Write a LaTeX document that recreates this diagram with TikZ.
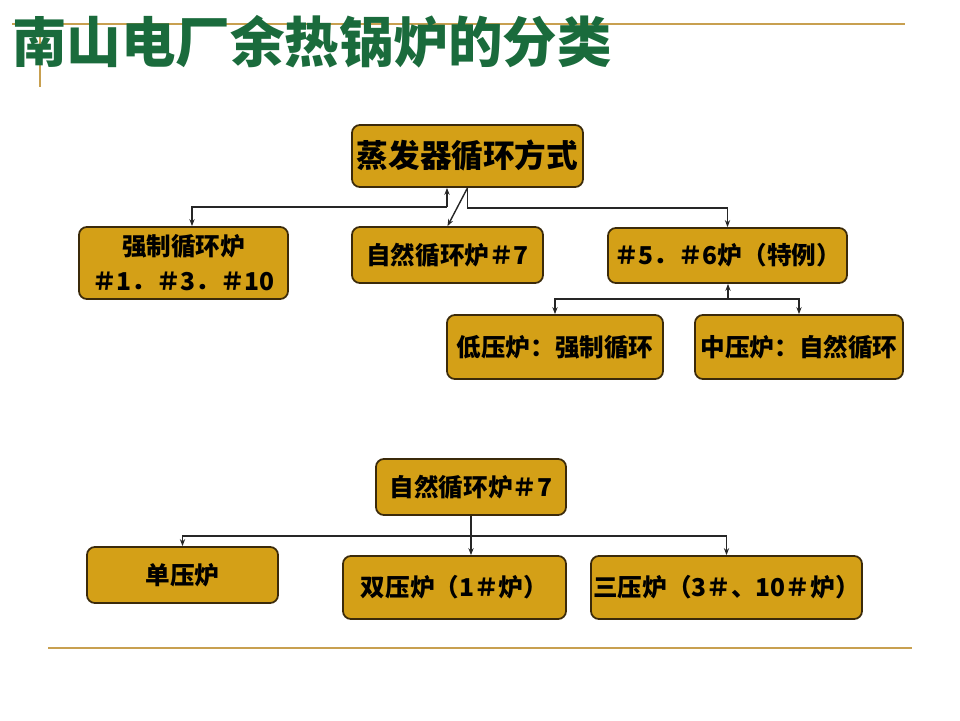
\documentclass[tikz,border=0pt]{standalone}
\usepackage{fontspec}
\usetikzlibrary{arrows.meta,positioning,calc}
\newfontfamily\cjk{Noto Sans CJK SC}
\definecolor{boxfill}{HTML}{D4A017}
\definecolor{boxline}{HTML}{3B2A0A}
\definecolor{titlegreen}{HTML}{1A6B3C}
\definecolor{rulegold}{HTML}{C8A050}

\begin{document}
\begin{tikzpicture}[x=0.02cm, y=-0.02cm,
  box/.style={rectangle, rounded corners=4.5pt, draw=boxline, line width=1pt, fill=boxfill, inner sep=0pt, align=center, font=\cjk\bfseries\fontsize{14pt}{20pt}\selectfont},
  arr/.style={-{Stealth[length=4pt,width=3pt]}, line width=0.8pt, black!85}
]
  \useasboundingbox (0,0) rectangle (960,720);

  % page rules
  \draw[rulegold, line width=1.2pt] (12,24) -- (905,24);
  \draw[rulegold, line width=1.2pt] (40,16) -- (40,87);
  \draw[rulegold, line width=1.4pt] (48,648) -- (912,648);
  \node[anchor=base west, inner sep=0pt, titlegreen, font=\cjk\bfseries\fontsize{31pt}{36pt}\selectfont] (title) at (12,62) {南山电厂余热锅炉的分类};

  % upper tree
  \node[box, minimum width=231*0.02cm, minimum height=62*0.02cm, font=\cjk\bfseries\fontsize{18pt}{22pt}\selectfont] (evap) at (467.5,156) {蒸发器循环方式};
  \node[box, minimum width=209*0.02cm, minimum height=72*0.02cm] (forced) at (183.5,263) {强制循环炉\\＃1．＃3．＃10};
  \node[box, minimum width=191*0.02cm, minimum height=56*0.02cm] (natural) at (447.5,255) {自然循环炉＃7};
  \node[box, minimum width=239*0.02cm, minimum height=55*0.02cm] (special) at (727.5,255.5) {＃5．＃6炉（特例）};
  \node[box, minimum width=216*0.02cm, minimum height=64*0.02cm] (lowp) at (555,347) {低压炉：强制循环};
  \node[box, minimum width=208*0.02cm, minimum height=64*0.02cm] (midp) at (799,347) {中压炉：自然循环};

  \coordinate (j1) at (447,207);
  \coordinate (j2) at (728,299);
  \draw[arr] (j1) -- (j1 |- evap.south);
  \draw[arr] (j1) -| ($(forced.north)+(8.5,0)$);
  \draw[arr] (evap.south) -- (natural.north);
  \draw[arr] (evap.south) -- ($(evap.south)+(0,20)$) -| (special.north);
  \draw[arr] (j2) -- (j2 |- special.south);
  \draw[arr] (j2) -| (lowp.north);
  \draw[arr] (j2) -| (midp.north);

  % lower tree
  \node[box, minimum width=190*0.02cm, minimum height=56*0.02cm] (natural2) at (471,487) {自然循环炉＃7};
  \node[box, minimum width=191*0.02cm, minimum height=56*0.02cm] (single) at (182.5,575) {单压炉};
  \node[box, minimum width=223*0.02cm, minimum height=63*0.02cm] (double) at (454.5,587.5) {双压炉（1＃炉）};
  \node[box, minimum width=271*0.02cm, minimum height=63*0.02cm] (triple) at (726.5,587.5) {三压炉（3＃、10＃炉）};

  \coordinate (j3) at (471,536);
  \draw[arr] (natural2.south) -- (natural2.south |- double.north);
  \draw[arr] (j3) -| (single.north);
  \draw[arr] (j3) -| (triple.north);
\end{tikzpicture}
\end{document}
